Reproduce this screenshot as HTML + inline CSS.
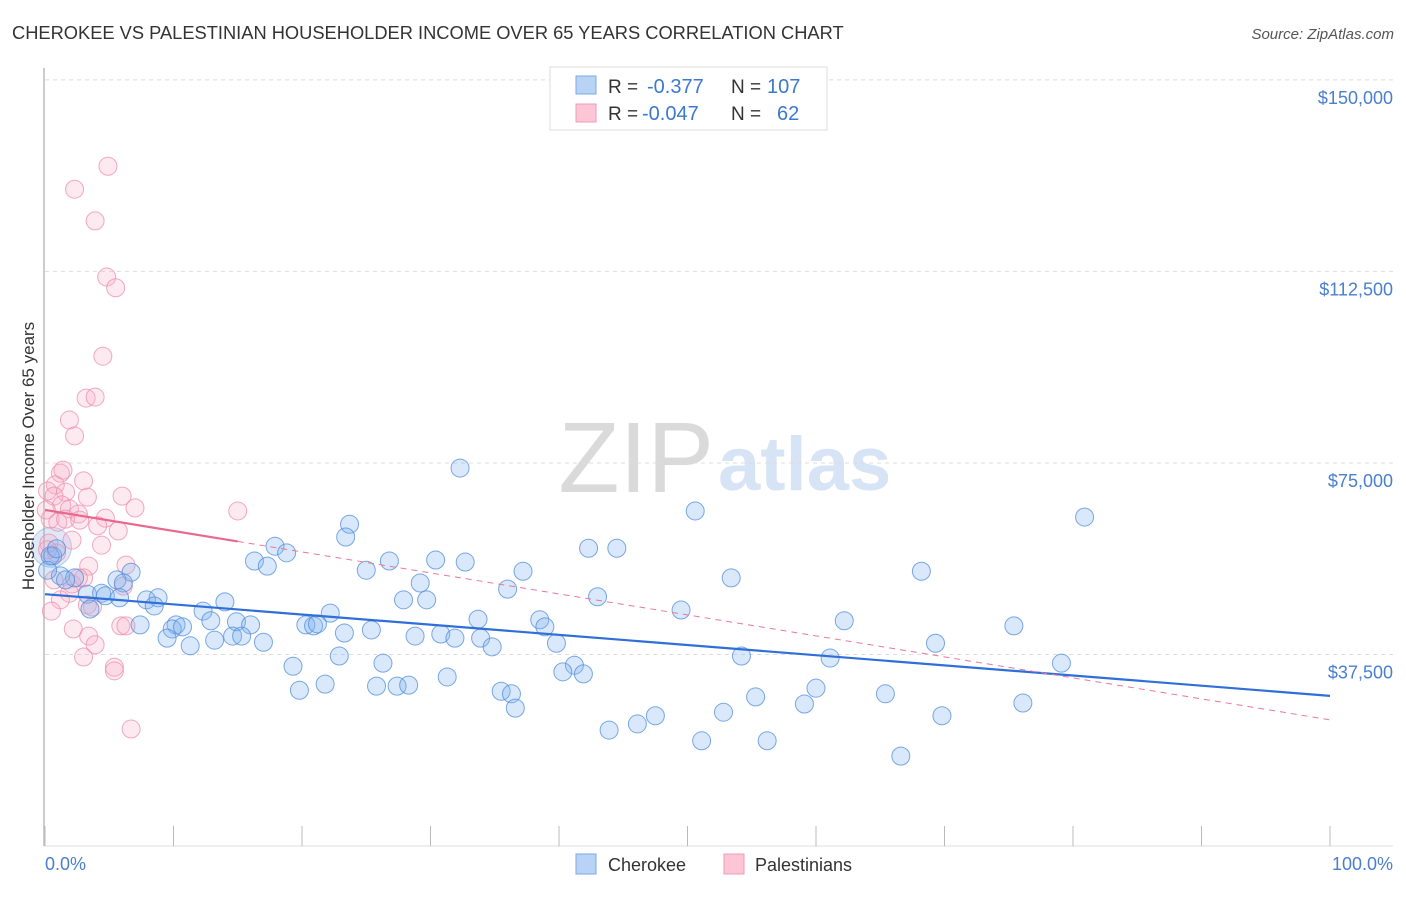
<!DOCTYPE html>
<html><head><meta charset="utf-8"><style>
body{margin:0;background:#fff;font-family:"Liberation Sans",sans-serif}
svg text{font-family:"Liberation Sans",sans-serif}
</style></head><body>
<svg id="chart" width="1406" height="892">
<text x="12" y="39" font-size="18.3" fill="#333">CHEROKEE VS PALESTINIAN HOUSEHOLDER INCOME OVER 65 YEARS CORRELATION CHART</text>
<text x="1394" y="39" font-size="15" fill="#555" font-style="italic" text-anchor="end">Source: ZipAtlas.com</text>
<text x="714" y="492" font-size="100" fill="#dadada" font-family="Liberation Serif" text-anchor="end">ZIP</text>
<text x="718" y="490" font-size="76" fill="#d6e4f5" font-weight="bold">atlas</text>
<g id="grid"></g>
<g id="axes"></g>
<g id="pts"></g>
<g id="trends"></g>
<text transform="translate(34,456) rotate(-90)" font-size="17" fill="#333" text-anchor="middle">Householder Income Over 65 years</text>
<text x="45" y="870" font-size="18" fill="#4a7fd0">0.0%</text>
<text x="1393" y="870" font-size="18" fill="#4a7fd0" text-anchor="end">100.0%</text>
<g>
<rect x="550" y="67" width="277" height="63" fill="#fff" stroke="#ddd"/>
<rect x="576" y="76" width="20" height="18" fill="#b9d3f5" stroke="#7aa8e6"/>
<rect x="576" y="104" width="20" height="18" fill="#fcc6d6" stroke="#f09ab5"/>
<text x="608" y="93" font-size="19" fill="#333">R = </text><text x="647" y="93" font-size="20" fill="#3d78d0">-0.377</text>
<text x="731" y="93" font-size="19" fill="#333">N = </text><text x="767" y="93" font-size="20" fill="#3d78d0">107</text>
<text x="608" y="120" font-size="19" fill="#333">R = </text><text x="642" y="120" font-size="20" fill="#3d78d0">-0.047</text>
<text x="731" y="120" font-size="19" fill="#333">N = </text><text x="777" y="120" font-size="20" fill="#3d78d0">62</text>
</g>
<g>
<rect x="576" y="854" width="20" height="20" fill="#b9d3f5" stroke="#7aa8e6"/>
<text x="608" y="871" font-size="18" fill="#333">Cherokee</text>
<rect x="724" y="854" width="20" height="20" fill="#fcc6d6" stroke="#f09ab5"/>
<text x="755" y="871" font-size="18" fill="#333">Palestinians</text>
</g>
</svg>
<script>
const yTicks=[37500,75000,112500,150000];
const yTickLabels=["$37,500","$75,000","$112,500","$150,000"];
const xTicks=[0,10,20,30,40,50,60,70,80,90,100];
const cherokeeX=[32.3,80.9,50.6,23.7,23.4,17.9,18.8,42.3,44.5,16.3,17.3,26.8,30.4,32.7,37.2,53.4,68.2,25.0,29.2,36.0,43.0,27.9,29.7,49.5,6.7,5.6,1.2,0.6,2.3,3.3,4.4,6.1,7.9,8.8,8.5,12.3,14.0,22.2,38.5,33.7,62.2,75.4,7.4,10.2,9.9,10.7,12.9,14.9,16.0,20.3,20.9,21.2,23.3,25.4,28.8,30.8,31.9,33.9,34.8,38.9,39.8,9.5,11.3,13.2,14.6,15.3,17.0,69.3,79.1,54.2,61.1,22.9,19.3,26.3,41.2,40.3,41.9,31.3,19.8,21.8,25.8,27.4,28.3,35.5,36.3,36.6,55.3,60.0,59.1,65.4,76.1,52.8,47.5,46.1,43.9,69.8,51.1,56.2,66.6,0.4,0.2,3.5,1.6,4.7,5.8,0.9];
const cherokeeY=[74.0,64.4,65.6,63.0,60.5,58.7,57.4,58.3,58.3,55.8,54.8,55.8,56.0,55.6,53.8,52.5,53.8,54.0,51.5,50.3,48.8,48.2,48.2,46.2,53.6,52.1,52.9,56.8,52.5,49.3,49.5,51.5,48.2,48.6,47.0,46.0,47.8,45.6,44.3,44.4,44.1,43.1,43.3,43.3,42.5,42.9,44.1,43.9,43.3,43.3,43.1,43.5,41.7,42.3,41.1,41.5,40.7,40.7,39.0,42.9,39.7,40.7,39.2,40.3,41.1,41.1,39.9,39.7,35.8,37.2,36.8,37.2,35.2,35.8,35.4,34.1,33.7,33.1,30.5,31.7,31.3,31.3,31.5,30.3,29.8,27.0,29.2,30.9,27.8,29.8,28.0,26.2,25.5,23.9,22.7,25.5,20.6,20.6,17.6,56.8,54.0,46.4,52.1,49.0,48.6,58.2];
const palX=[4.9,2.3,3.9,4.8,5.5,4.5,1.9,3.2,3.9,2.3,1.2,3.0,0.8,3.3,1.6,6.0,7.0,0.2,0.7,1.3,1.9,2.6,0.4,1.0,4.7,5.7,15.0,2.1,4.4,0.9,3.4,0.3,0.7,2.1,3.0,2.6,6.3,6.1,1.9,3.3,3.7,0.2,2.2,3.4,3.9,3.0,5.9,6.3,5.4,5.4,6.7,1.2,0.5,1.6,2.7,1.4,4.1,0.1];
const palY=[133.1,128.6,122.4,111.4,109.3,95.9,83.4,87.7,87.9,80.3,73.0,71.5,70.7,68.3,69.3,68.5,66.2,69.5,68.5,66.8,66.0,65.0,64.0,63.4,64.2,61.7,65.6,59.9,58.9,57.4,54.8,59.3,52.1,51.3,52.5,52.5,55.0,50.9,49.5,47.2,46.8,58.0,42.5,41.1,39.4,37.0,43.1,43.1,35.0,34.3,22.9,48.2,46.0,64.0,63.8,73.6,62.7,65.8];
const cherokeeTrend=[49.3,29.4];
const palTrend=[65.8,24.7];
const palSolidEnd=15;
const NS="http://www.w3.org/2000/svg";
const X=v=>45+v*12.85;
const Y=k=>846-k*1000/195.8;
function el(t,a,p){const e=document.createElementNS(NS,t);for(const k in a)e.setAttribute(k,a[k]);p.appendChild(e);return e;}
const grid=document.getElementById('grid'),axes=document.getElementById('axes'),pts=document.getElementById('pts'),tr=document.getElementById('trends');
yTicks.forEach((t,i)=>{
 const l=el('line',{x1:45,x2:1393,y1:Y(t/1000),y2:Y(t/1000),stroke:'#ddd','stroke-dasharray':'4,4'},grid);
 
 
 const tx=el('text',{x:1393,y:Y(t/1000)+24,'font-size':18,fill:'#4a7fd0','text-anchor':'end'},grid);
 tx.textContent=yTickLabels[i];
 
 
});
const ax=el('line',{x1:44,x2:44,y1:68,y2:846,stroke:'#bbb','stroke-width':1.5},axes);


const bx=el('line',{x1:44,x2:1393,y1:846,y2:846,stroke:'#ddd'},axes);


xTicks.forEach(t=>{
 const k=el('line',{x1:X(t),x2:X(t),y1:826,y2:846,stroke:'#bbb'},axes);
 
 
});
const big=el('circle',{cx:X(0.5),cy:Y(58.5),r:20,fill:'rgba(150,180,230,0.3)',stroke:'rgba(120,160,220,0.5)','stroke-width':1},pts);


palX.forEach((x,i)=>{
 const c=el('circle',{cx:X(x),cy:Y(palY[i]),r:9,fill:'rgba(248,175,200,0.28)',stroke:'rgba(238,140,172,0.75)','stroke-width':1},pts);
 
 
});
cherokeeX.forEach((x,i)=>{
 const c=el('circle',{cx:X(x),cy:Y(cherokeeY[i]),r:9,fill:'rgba(130,178,238,0.3)',stroke:'rgba(80,140,220,0.75)','stroke-width':1},pts);
 
 
});
const pl=(x)=>palTrend[0]+(palTrend[1]-palTrend[0])*x/100;
const l1=el('line',{x1:X(0),y1:Y(cherokeeTrend[0]),x2:X(100),y2:Y(cherokeeTrend[1]),stroke:'#2f6fd8','stroke-width':2.2},tr);


const l2=el('line',{x1:X(0),y1:Y(pl(0)),x2:X(palSolidEnd),y2:Y(pl(palSolidEnd)),stroke:'#e8688f','stroke-width':2.2},tr);


const l3=el('line',{x1:X(palSolidEnd),y1:Y(pl(palSolidEnd)),x2:X(100),y2:Y(pl(100)),stroke:'#e8789a','stroke-width':1,'stroke-dasharray':'6,5'},tr);


</script>
</body></html>
